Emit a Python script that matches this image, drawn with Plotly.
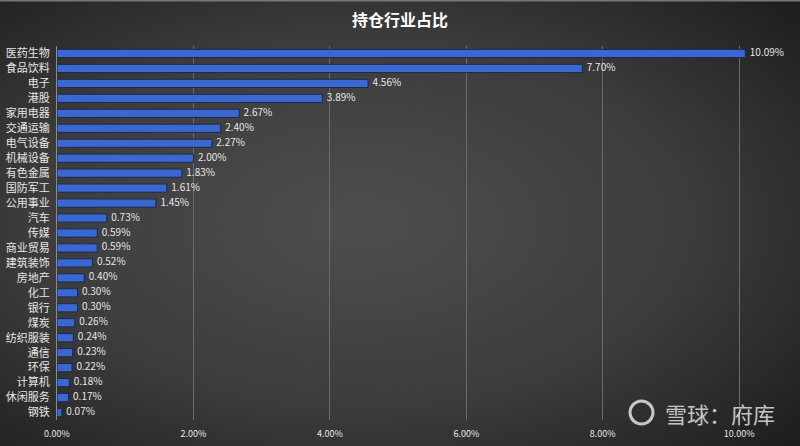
import base64
import plotly.graph_objects as go

categories = ["医药生物", "食品饮料", "电子", "港股", "家用电器", "交通运输", "电气设备", "机械设备",
              "有色金属", "国防军工", "公用事业", "汽车", "传媒", "商业贸易", "建筑装饰", "房地产",
              "化工", "银行", "煤炭", "纺织服装", "通信", "环保", "计算机", "休闲服务", "钢铁"]
values = [10.09, 7.70, 4.56, 3.89, 2.67, 2.40, 2.27, 2.00, 1.83, 1.61, 1.45, 0.73, 0.59, 0.59,
          0.52, 0.40, 0.30, 0.30, 0.26, 0.24, 0.23, 0.22, 0.18, 0.17, 0.07]
tick_vals = [0, 2, 4, 6, 8, 10]
tick_text = ["0.00%", "2.00%", "4.00%", "6.00%", "8.00%", "10.00%"]

W, H = 800, 446
XMAX = 10.1
L, T, B = 57, 46, 26
pw = round(682 * XMAX / 10)
R = W - L - pw
ph = H - T - B

svg = f'''<svg xmlns="http://www.w3.org/2000/svg" width="{W}" height="{H}" viewBox="0 0 {W} {H}" preserveAspectRatio="none">
<defs><radialGradient id="g" cx="0.45" cy="0.5" r="0.75" gradientUnits="objectBoundingBox">
<stop offset="0" stop-color="#4e4e4e"/><stop offset="0.55" stop-color="#3c3c3c"/><stop offset="1" stop-color="#1c1c1c"/>
</radialGradient></defs>
<rect width="{W}" height="{H}" fill="url(#g)"/>
<rect x="0" y="0" width="{W}" height="1.5" fill="#777"/>
</svg>'''
src = "data:image/svg+xml;base64," + base64.b64encode(svg.encode()).decode()

font = "Noto Sans CJK SC, sans-serif"

fig = go.Figure()
fig.add_trace(go.Bar(
    y=categories, x=values, orientation="h",
    marker=dict(color="#3a68d0", line=dict(color="#1a2a50", width=1)),
    width=0.55, hoverinfo="skip",
))
fig.add_trace(go.Scatter(
    y=categories, x=values, mode="text",
    text=[f"  {v:.2f}%" for v in values], textposition="middle right",
    textfont=dict(color="#e6e6e6", size=10, family=font),
    cliponaxis=False, hoverinfo="skip",
))

fig.update_layout(
    width=W, height=H,
    margin=dict(l=L, r=R, t=T, b=B, autoexpand=False),
    paper_bgcolor="#333333", plot_bgcolor="rgba(0,0,0,0)",
    showlegend=False,
    title=dict(text="<b>持仓行业占比</b>", x=0.5, xanchor="center", y=0.955, yanchor="middle",
               font=dict(color="white", size=16, family=font)),
    images=[dict(source=src, xref="paper", yref="paper", x=-L / pw, y=1 + T / ph,
                 sizex=W / pw, sizey=H / ph, xanchor="left", yanchor="top",
                 sizing="stretch", layer="below")],
    xaxis=dict(range=[0, XMAX], tickvals=tick_vals, ticktext=tick_text, automargin=False,
               showgrid=True, gridcolor="#6a6a6a", gridwidth=1, zeroline=False,
               tickfont=dict(color="#e6e6e6", size=9, family=font), ticklabelstandoff=7,
               showline=False, fixedrange=True),
    yaxis=dict(range=[len(categories) - 0.5, -0.5], showgrid=False, showline=True, linecolor="#8a8a8a",
               linewidth=1, tickfont=dict(color="#e6e6e6", size=11, family=font), automargin=False,
               ticks="", ticklabelstandoff=4),
    bargap=0.45,
    annotations=[dict(text="雪球：府库", xref="paper", yref="paper",
                      x=(777 - L) / pw, y=(H - 413 - B) / ph, xanchor="right", yanchor="middle",
                      showarrow=False, font=dict(color="rgba(225,225,225,0.85)", size=22, family=font))],
    shapes=[dict(type="circle", xref="paper", yref="paper",
                 x0=(630 - L) / pw, x1=(653 - L) / pw,
                 y0=(H - 424 - B) / ph, y1=(H - 401 - B) / ph,
                 line=dict(color="rgba(225,225,225,0.85)", width=3))],
)

fig.write_html("out.html")
